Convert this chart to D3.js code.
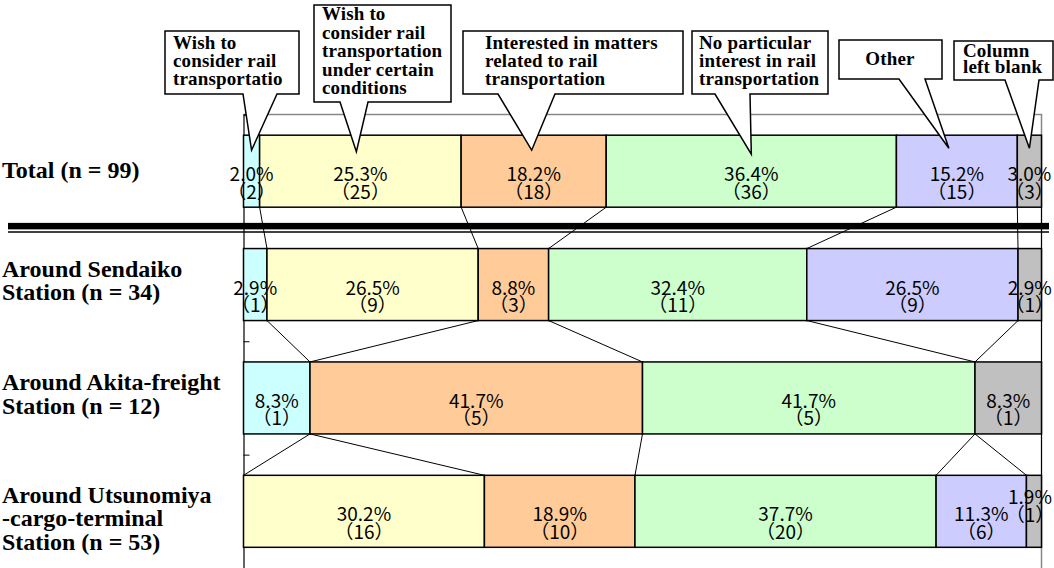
<!DOCTYPE html>
<html>
<head>
<meta charset="utf-8">
<script src="https://cdn.jsdelivr.net/npm/d3@7"></script>
<style>
    body { margin: 0; background: #fff; }
    #chart { width: 1054px; height: 568px; }
    .cat-label { font-family: "Liberation Serif", "Times New Roman", serif; font-weight: bold; font-size: 24px; fill: #000; }
    .bar-label { font-family: "Noto Sans CJK JP", "Noto Sans", sans-serif; font-size: 19px; fill: #000; }
    .callout-text { font-family: "Liberation Serif", "Times New Roman", serif; font-weight: bold; font-size: 19px; letter-spacing: 0.15px; fill: #000; }
</style>
</head>
<body>
<div id="chart"></div>
<script>
// Chart data
const categories = [
    "Total (n = 99)",
    "Around Sendaiko Station (n = 34)",
    "Around Akita-freight Station (n = 12)",
    "Around Utsunomiya-cargo-terminal Station (n = 53)"
];
const categoryLines = [
    ["Total (n = 99)"],
    ["Around Sendaiko", "Station (n = 34)"],
    ["Around Akita-freight", "Station (n = 12)"],
    ["Around Utsunomiya", "-cargo-terminal", "Station (n = 53)"]
];
const series = [
    "Wish to consider rail transportatio",
    "Wish to consider rail transportation under certain conditions",
    "Interested in matters related to rail transportation",
    "No particular interest in rail transportation",
    "Other",
    "Column left blank"
];
const seriesLines = [
    ["Wish to", "consider rail", "transportatio"],
    ["Wish to", "consider rail", "transportation", "under certain", "conditions"],
    ["Interested in matters", "related to rail", "transportation"],
    ["No particular", "interest in rail", "transportation"],
    ["Other"],
    ["Column", "left blank"]
];
const colors = ["#CCFFFF", "#FFFFCC", "#FFCC99", "#CCFFCC", "#CCCCFF", "#C0C0C0"];

// counts per category (in series order)
const countTotal = [2, 25, 18, 36, 15, 3];
const countSendaiko = [1, 9, 3, 11, 9, 1];
const countAkita = [1, 0, 5, 5, 0, 1];
const countUtsunomiya = [0, 16, 10, 20, 6, 1];

// percent labels as printed
const pctTotal = ["2.0%", "25.3%", "18.2%", "36.4%", "15.2%", "3.0%"];
const pctSendaiko = ["2.9%", "26.5%", "8.8%", "32.4%", "26.5%", "2.9%"];
const pctAkita = ["8.3%", "", "41.7%", "41.7%", "", "8.3%"];
const pctUtsunomiya = ["", "30.2%", "18.9%", "37.7%", "11.3%", "1.9%"];

const counts = [countTotal, countSendaiko, countAkita, countUtsunomiya];
const pcts = [pctTotal, pctSendaiko, pctAkita, pctUtsunomiya];

// Layout of the callout boxes (annotation geometry)
const calloutLayout = [
    { box: [165, 31, 299, 94], base: [243, 277], tipDx: 0, tipDy: 15, textX: 173, y0: 49, step: 17.8, anchor: "start" },
    { box: [314, 5, 451, 102], base: [340, 368], tipDx: -4, tipDy: 16.5, textX: 322, y0: 20, step: 18.6, anchor: "start" },
    { box: [463, 31, 683, 94], base: [498, 555], tipDx: -2, tipDy: 15, textX: 485, y0: 49, step: 17.8, anchor: "start" },
    { box: [692, 31, 828, 94], base: [715, 750], tipDx: 0, tipDy: 19, textX: 699, y0: 49, step: 17.8, anchor: "start" },
    { box: [839, 40, 942, 79], base: [899, 925], tipDx: -8, tipDy: 13, textX: 890, y0: 65, step: 17.8, anchor: "middle" },
    { box: [954, 41, 1053, 80], base: [1005, 1039], tipDx: 0, tipDy: 13, textX: 963, y0: 57, step: 15.5, anchor: "start" }
];
// mid-baseline offsets of the category labels
const catLabelDy = [7, 4, 4, 15];

function initChart() {
    const width = 1054;
    const height = 568;

    const svg = d3.select("#chart")
        .append("svg")
        .attr("width", width)
        .attr("height", height);

    const rows = counts.map((c, i) => {
        const n = d3.sum(c);
        const row = { category: categories[i] };
        c.forEach((v, k) => { row[k] = v / n; });
        return row;
    });

    const stacked = d3.stack().keys(d3.range(series.length))(rows);

    const x = d3.scaleLinear()
        .domain([0, 1])
        .range([243.5, 1041.5]);

    const y = d3.scaleBand()
        .domain(categories)
        .range([114.5, 568])
        .paddingInner(0.365)
        .paddingOuter(0.1825);

    const step = y.step();
    const top = y.range()[0];

    // plot frame (top and right)
    svg.append("path")
        .attr("d", `M${x(0)},${top}H${x(1)}V${height}`)
        .attr("fill", "none")
        .attr("stroke", "#888")
        .attr("stroke-width", 1.5);

    // category axis with inward ticks, no labels
    const axis = svg.append("g")
        .attr("transform", `translate(${x(0)},0)`)
        .call(d3.axisRight(d3.scaleLinear().domain([0, 4]).range([top, top + 4 * step]))
            .ticks(4)
            .tickSize(6)
            .tickFormat(""));
    axis.select(".domain").attr("stroke", "#000").attr("stroke-width", 1.2);
    axis.selectAll(".tick line").attr("stroke", "#000");

    // series lines between adjacent bars
    const seriesLinesData = [];
    for (let i = 0; i < categories.length - 1; i++) {
        stacked.forEach(layer => {
            seriesLinesData.push({
                x1: x(layer[i][1]), y1: y(categories[i]) + y.bandwidth(),
                x2: x(layer[i + 1][1]), y2: y(categories[i + 1])
            });
        });
    }
    svg.append("g")
        .selectAll("line")
        .data(seriesLinesData)
        .enter().append("line")
        .attr("x1", d => d.x1)
        .attr("y1", d => d.y1)
        .attr("x2", d => d.x2)
        .attr("y2", d => d.y2)
        .attr("stroke", "#000")
        .attr("stroke-width", 1);

    // double separator under Total
    const sepY = top + step;
    svg.append("rect")
        .attr("x", 8)
        .attr("y", sepY - 5)
        .attr("width", 1041)
        .attr("height", 6.5)
        .attr("fill", "#000");
    svg.append("line")
        .attr("x1", 8)
        .attr("x2", 1049)
        .attr("y1", sepY + 4)
        .attr("y2", sepY + 4)
        .attr("stroke", "#000")
        .attr("stroke-width", 1.5);

    // bar segments
    const layers = svg.append("g")
        .selectAll("g")
        .data(stacked)
        .enter().append("g")
        .attr("fill", d => colors[d.key]);

    layers.selectAll("rect")
        .data(d => d.filter(s => s[1] - s[0] > 0))
        .enter().append("rect")
        .attr("x", d => x(d[0]))
        .attr("y", d => y(d.data.category))
        .attr("width", d => x(d[1]) - x(d[0]))
        .attr("height", y.bandwidth())
        .attr("stroke", "#000")
        .attr("stroke-width", 1.5);

    // segment labels (the small last one is nudged up and left, as in the source)
    const labelData = [];
    stacked.forEach(layer => {
        layer.forEach((s, i) => {
            if (s[1] - s[0] <= 0) return;
            const k = layer.key;
            const nudged = i === 3 && k === 5;
            labelData.push({
                cx: x((s[0] + s[1]) / 2) + (nudged ? -4 : 0),
                cy: y(categories[i]) + y.bandwidth() / 2 + (nudged ? -17 : 0),
                pct: pcts[i][k],
                cnt: "（" + counts[i][k] + "）"
            });
        });
    });

    const labels = svg.append("g")
        .selectAll("text")
        .data(labelData)
        .enter().append("text")
        .attr("class", "bar-label")
        .attr("text-anchor", "middle");
    labels.append("tspan")
        .attr("x", d => d.cx)
        .attr("y", d => d.cy + 10)
        .text(d => d.pct);
    labels.append("tspan")
        .attr("x", d => d.cx)
        .attr("y", d => d.cy + 27.5)
        .text(d => d.cnt);

    // category labels on the left
    svg.append("g")
        .selectAll("text")
        .data(categories)
        .enter().append("text")
        .attr("class", "cat-label")
        .each(function (c, i) {
            const lines = categoryLines[i];
            const lineStep = 23.8;
            const mid = y(c) + y.bandwidth() / 2 + catLabelDy[i];
            d3.select(this).selectAll("tspan")
                .data(lines)
                .enter().append("tspan")
                .attr("x", 2)
                .attr("y", (t, j) => mid + (j - (lines.length - 1) / 2) * lineStep)
                .text(t => t);
        });

    // callouts (legend) pointing to the Total bar
    const totalTop = y(categories[0]);
    const callouts = svg.append("g")
        .selectAll("g")
        .data(calloutLayout)
        .enter().append("g");

    callouts.append("path")
        .attr("d", (d, k) => {
            const layer = stacked[k][0];
            const tx = x((layer[0] + layer[1]) / 2) + d.tipDx;
            const ty = totalTop + d.tipDy;
            const [x0, y0, x1, y1] = d.box;
            return `M${x0},${y0}H${x1}V${y1}H${d.base[1]}L${tx},${ty}L${d.base[0]},${y1}H${x0}Z`;
        })
        .attr("fill", "#fff")
        .attr("stroke", "#000")
        .attr("stroke-width", 1.5)
        .attr("stroke-linejoin", "miter");

    callouts.append("text")
        .attr("class", "callout-text")
        .attr("text-anchor", d => d.anchor)
        .each(function (d, k) {
            d3.select(this).selectAll("tspan")
                .data(seriesLines[k])
                .enter().append("tspan")
                .attr("x", d.textX)
                .attr("y", (t, j) => d.y0 + j * d.step)
                .text(t => t);
        });
}

document.addEventListener('DOMContentLoaded', initChart);
</script>
</body>
</html>
